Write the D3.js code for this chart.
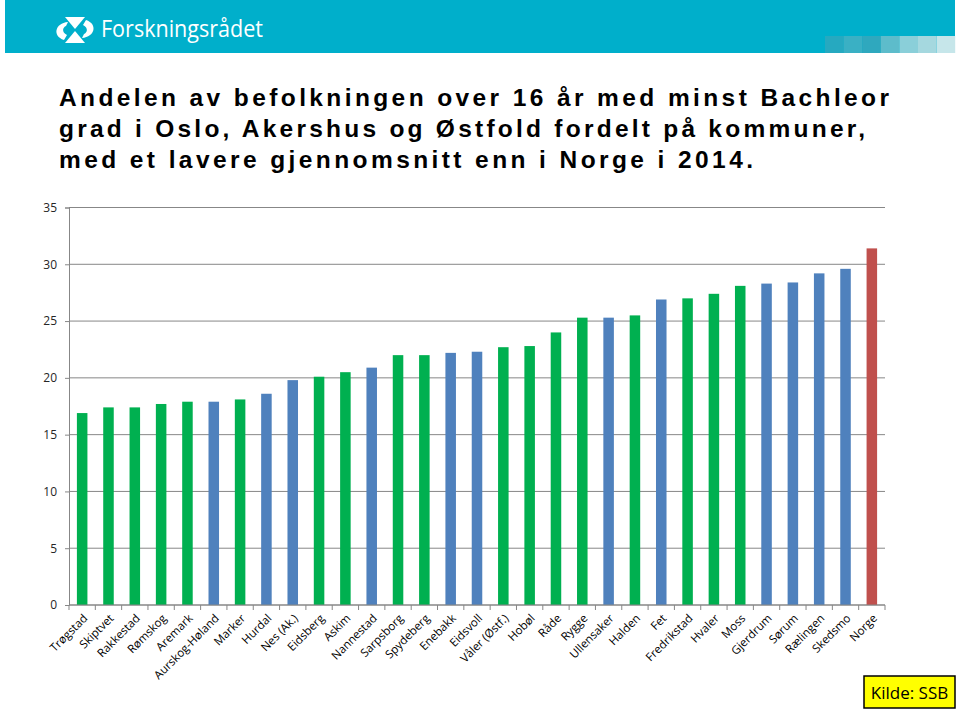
<!DOCTYPE html>
<html><head><meta charset="utf-8">
<script src="https://cdn.jsdelivr.net/npm/d3@7"></script>
<style>body{margin:0;background:#fff}svg{display:block}</style>
</head><body>
<svg id="c" width="960" height="711"></svg>
<script>
const categories = ["Trøgstad","Skiptvet","Rakkestad","Rømskog","Aremark","Aurskog-Høland","Marker","Hurdal","Nes (Ak.)","Eidsberg","Askim","Nannestad","Sarpsborg","Spydeberg","Enebakk","Eidsvoll","Våler (Østf.)","Hobøl","Råde","Rygge","Ullensaker","Halden","Fet","Fredrikstad","Hvaler","Moss","Gjerdrum","Sørum","Rælingen","Skedsmo","Norge"];
const values = [16.9,17.4,17.4,17.7,17.9,17.9,18.1,18.6,19.8,20.1,20.5,20.9,22.0,22.0,22.2,22.3,22.7,22.8,24.0,25.3,25.3,25.5,26.9,27.0,27.4,28.1,28.3,28.4,29.2,29.6,31.4];
const groups = ["green","green","green","green","green","blue","green","blue","blue","green","green","blue","green","green","blue","blue","green","green","green","green","blue","green","blue","green","green","green","blue","blue","blue","blue","red"];
const yTicks = [0,5,10,15,20,25,30,35];
const titleLines = ["Andelen av befolkningen over 16 år med minst Bachleor","grad i Oslo, Akershus og Østfold fordelt på kommuner,","med et lavere gjennomsnitt enn i Norge i 2014."];
const source = "Kilde: SSB";
const colorMap = {"green":"#00B050","blue":"#4F81BD","red":"#C0504D"};

const svg = d3.select("#c");
// header band
svg.append("rect").attr("x",5).attr("y",0).attr("width",950).attr("height",53).attr("fill","#00AFCB");
const sq = ["#26A9C0","#3AB0C4","#2FA8BE","#5DBCCB","#8ACFD9","#A5D8DF","#C6E6EA"];
sq.forEach((c,i)=>svg.append("rect").attr("x",825+i*18.6).attr("y",36).attr("width",18.6).attr("height",17).attr("fill",c));
// logo icon
const lg = svg.append("g").attr("transform","translate(75,30)").attr("fill","#fff");
lg.append("path").attr("d","M-10,-13 L10,-13 L0,-1 Z");
lg.append("path").attr("d","M-10,13 L10,13 L0,1 Z");
lg.append("path").attr("d","M-7,-8 C-20,-7 -23,6 -11,10 L-8,5 C-14,2 -12,-3 -9,-4 Z");
lg.append("path").attr("d","M7,8 C20,7 23,-6 11,-10 L8,-5 C14,-2 12,3 9,4 Z");
svg.append("text").attr("x",101).attr("y",37).attr("fill","#fff").attr("font-family","Open Sans, sans-serif").attr("font-size",23)
  .attr("textLength",162).attr("lengthAdjust","spacingAndGlyphs").text("Forskningsrådet");

// title
const tl = [[106,830],[137,806],[168,694]];
titleLines.forEach((t,i)=>{
  svg.append("text").attr("x",59).attr("y",tl[i][0]).attr("font-family","Liberation Sans, Arial, sans-serif")
    .attr("font-weight","bold").attr("font-size",24.5).attr("fill","#000")
    .attr("textLength",tl[i][1]).attr("lengthAdjust","spacing").text(t);
});

// chart
const x0=69, x1=885, yTop=207.5, yBot=605;
const x = d3.scaleBand().domain(categories).range([x0,x1]).paddingInner(0.6).paddingOuter(0.3);
const y = d3.scaleLinear().domain([0,35]).range([yBot,yTop]);

const grid = svg.append("g");
yTicks.forEach(v=>grid.append("line").attr("x1",x0).attr("x2",x1).attr("y1",y(v)).attr("y2",y(v)).attr("stroke","#878787").attr("stroke-width",1));

svg.append("g").selectAll("rect").data(categories).join("rect")
  .attr("x",d=>x(d)).attr("width",x.bandwidth())
  .attr("y",(d,i)=>y(values[i])).attr("height",(d,i)=>y(0)-y(values[i]))
  .attr("fill",(d,i)=>colorMap[groups[i]]);

// y axis
const ya = svg.append("g").attr("transform",`translate(${x0},0)`).call(d3.axisLeft(y).tickValues(yTicks).tickSize(4).tickPadding(8));
ya.select(".domain").attr("stroke","#878787");
ya.selectAll(".tick line").attr("stroke","#878787");
ya.selectAll(".tick text").attr("font-family","Open Sans, sans-serif").attr("font-size",12).attr("fill","#262626");

// x axis with boundary ticks
const xa = svg.append("g");
xa.append("line").attr("x1",x0).attr("x2",x1).attr("y1",yBot).attr("y2",yBot).attr("stroke","#878787");
const bounds = d3.range(categories.length+1).map(i=>x0+ (x1-x0)*i/categories.length);
bounds.forEach(b=>xa.append("line").attr("x1",b).attr("x2",b).attr("y1",yBot).attr("y2",yBot+5).attr("stroke","#878787"));
xa.selectAll("text").data(categories).join("text")
  .attr("transform",d=>`translate(${x(d)+x.bandwidth()/2+6},${yBot+14}) rotate(-45)`)
  .attr("text-anchor","end").attr("font-family","Open Sans, sans-serif").attr("font-size",11.5).attr("fill","#000")
  .text(d=>d);

// source box
svg.append("rect").attr("x",864).attr("y",676).attr("width",91).attr("height",32).attr("fill","#FFFF00").attr("stroke","#000").attr("stroke-width",1.5);
svg.append("text").attr("x",909.5).attr("y",698.5).attr("text-anchor","middle").attr("font-family","Open Sans, sans-serif").attr("font-size",17).attr("fill","#000").text(source);
</script>
</body></html>
